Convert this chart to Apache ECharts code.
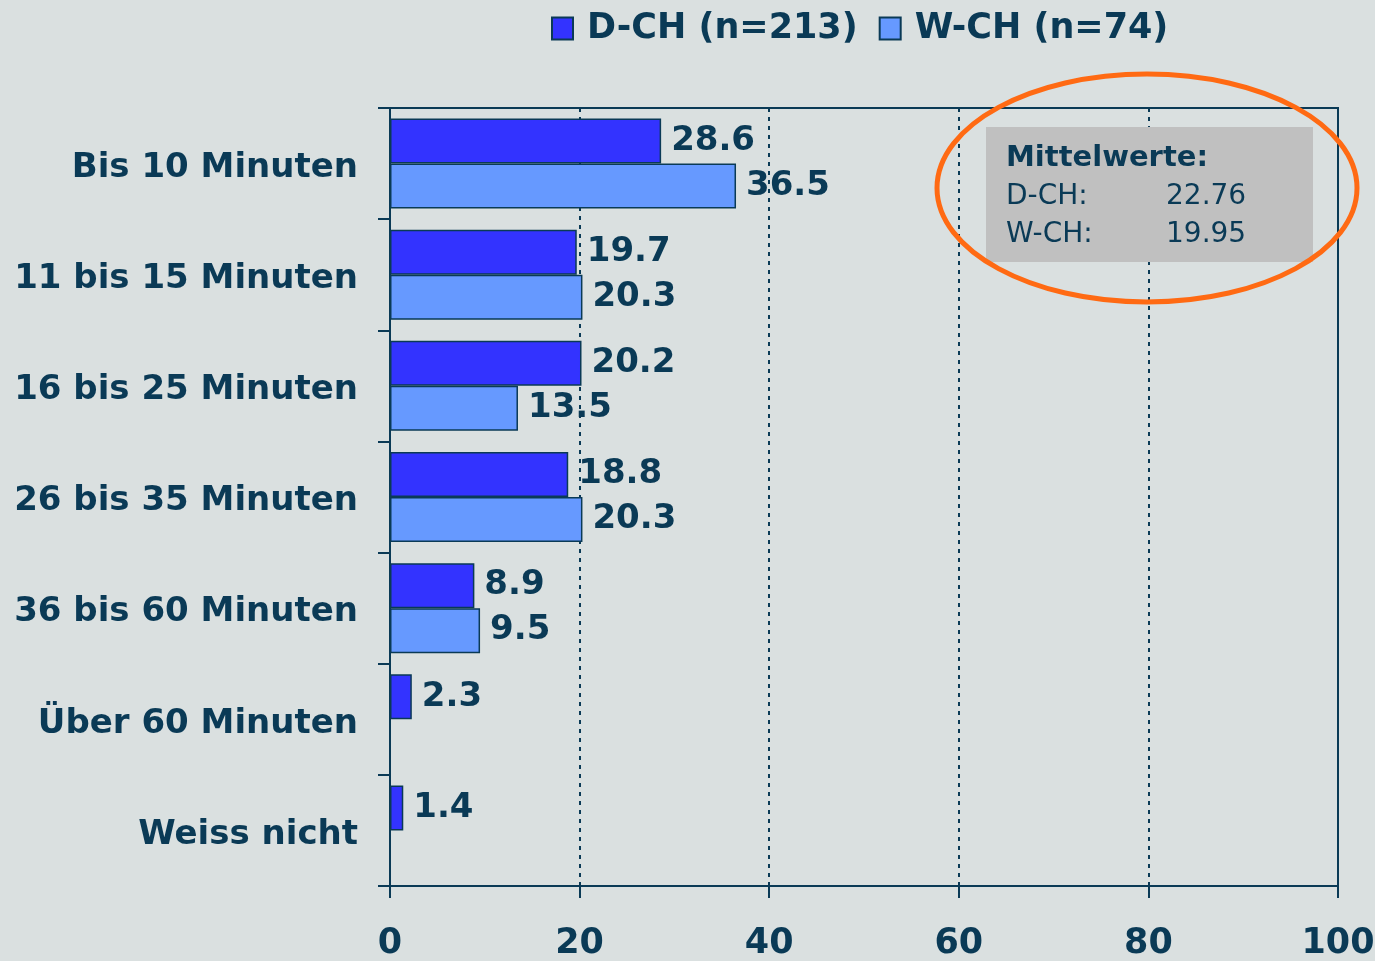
<!DOCTYPE html>
<html><head><meta charset="utf-8">
<script src="https://cdn.jsdelivr.net/npm/echarts@6/dist/echarts.min.js"></script>
<style>html,body{margin:0;padding:0;background:#dae0e0;}#c{width:1375px;height:961px;}</style>
</head><body><div id="c"></div>
<script>
var categories = ['Bis 10 Minuten','11 bis 15 Minuten','16 bis 25 Minuten','26 bis 35 Minuten','36 bis 60 Minuten','Über 60 Minuten','Weiss nicht'];
var seriesNames = ['D-CH (n=213)','W-CH (n=74)'];
var dch = [28.6, 19.7, 20.2, 18.8, 8.9, 2.3, 1.4];
var wch = [36.5, 20.3, 13.5, 20.3, 9.5, null, null];
var meanTitle = 'Mittelwerte:';
var meanLabels = ['D-CH:','W-CH:'];
var meanValues = ['22.76','19.95'];

var navy = '#0a3a56';
var font = 'DejaVu Sans';
var chart = echarts.init(document.getElementById('c'), null, {renderer:'canvas'});
function barSeries(name, data, color){
  return {
    name: name, type:'bar', data: data, barGap: '0%', barCategoryGap: '19%',
    itemStyle:{color: color, borderColor: navy, borderWidth: 1.5},
    label:{show:true, position:'right', distance:10, color:navy, fontFamily:font, fontWeight:'bold', fontSize:34,
      formatter:function(p){return p.value.toFixed(1);}},
    z: 3
  };
}
chart.setOption({
  backgroundColor:'#dae0e0',
  animation:false,
  textStyle:{fontFamily:font},
  legend:{
    top: 6, left: 546, itemWidth: 21, itemHeight: 22, itemGap: 21, icon:'rect',
    data: seriesNames,
    textStyle:{color:navy, fontFamily:font, fontWeight:'bold', fontSize:35, padding:[0,0,0,9]}
  },
  grid:{left:390, right:37, top:108, bottom:75, outerBoundsMode:'none', containLabel:false, show:true, borderColor:navy, borderWidth:2, backgroundColor:'transparent'},
  xAxis:{
    type:'value', min:0, max:100, interval:20,
    axisLine:{show:true, lineStyle:{color:navy, width:2}},
    axisTick:{show:true, length:12, lineStyle:{color:navy, width:2}},
    axisLabel:{color:navy, fontFamily:font, fontWeight:'bold', fontSize:35, margin:40},
    splitLine:{show:true, lineStyle:{color:navy, width:2, type:[4,5]}}
  },
  yAxis:{
    type:'category', data: categories, inverse:true,
    axisLine:{show:true, lineStyle:{color:navy, width:2}},
    axisTick:{show:true, length:12, lineStyle:{color:navy, width:2}},
    axisLabel:{color:navy, fontFamily:font, fontWeight:'bold', fontSize:34, margin:32,
      formatter:function(v){return '{a|' + v + '}';},
      rich:{a:{color:navy, fontFamily:font, fontWeight:'bold', fontSize:34, padding:[9,0,0,0]}}}
  },
  series:[barSeries(seriesNames[0], dch, '#3333ff'), barSeries(seriesNames[1], wch, '#6699ff')],
  graphic:[
    {type:'rect', shape:{x:986, y:127, width:327, height:135}, style:{fill:'#c0c0c0'}, z:10},
    {type:'text', x:1006, y:158, style:{text:meanTitle, fill:navy, font:'bold 29px "DejaVu Sans"', textVerticalAlign:'middle'}, z:11},
    {type:'text', x:1006, y:197, style:{text:meanLabels[0], fill:navy, font:'28px "DejaVu Sans"', textVerticalAlign:'middle'}, z:11},
    {type:'text', x:1166, y:197, style:{text:meanValues[0], fill:navy, font:'28px "DejaVu Sans"', textVerticalAlign:'middle'}, z:11},
    {type:'text', x:1006, y:235, style:{text:meanLabels[1], fill:navy, font:'28px "DejaVu Sans"', textVerticalAlign:'middle'}, z:11},
    {type:'text', x:1166, y:235, style:{text:meanValues[1], fill:navy, font:'28px "DejaVu Sans"', textVerticalAlign:'middle'}, z:11},
    {type:'ellipse', shape:{cx:1147, cy:188, rx:210, ry:114}, style:{fill:'none', stroke:'#ff6a13', lineWidth:5}, z:12}
  ]
});
</script></body></html>
